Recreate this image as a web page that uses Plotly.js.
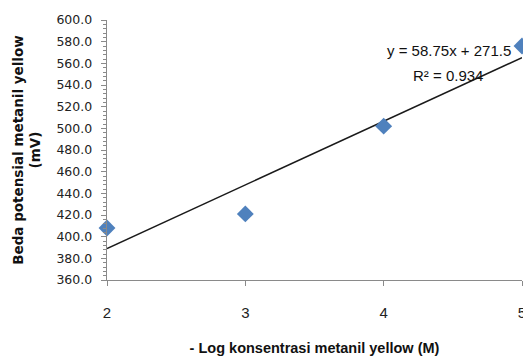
<!DOCTYPE html>
<html><head><meta charset="utf-8">
<script src="https://cdn.plot.ly/plotly-3.0.1.min.js"></script>
<style>html,body{margin:0;padding:0;background:#fff}#c{width:523px;height:363px}</style>
</head><body><div id="c"></div>
<script>
const logConc = [2, 3, 4, 5];
const potential = [408, 421, 502, 576];
const slope = 58.75;
const intercept = 271.5;
const r2 = 0.934;
const trendX = [2, 5];
const strayX = [3.66];
const strayY = [355.5];
const xTicks = [2, 3, 4, 5];

const trendY = trendX.map(x => slope * x + intercept);

const data = [
  {x: trendX, y: trendY, mode: 'lines', type: 'scatter',
   line: {color: '#1a1a1a', width: 1.5}, hoverinfo: 'skip', cliponaxis: false},
  {x: logConc, y: potential, mode: 'markers', type: 'scatter',
   marker: {symbol: 'diamond', size: 13, color: '#4F81BD'}, cliponaxis: false},
  {x: strayX, y: strayY, mode: 'markers', type: 'scatter',
   marker: {size: 2.5, color: '#3344ff'}, cliponaxis: false}
];

const layout = {
  width: 523, height: 363,
  margin: {l: 107, r: 1, t: 20, b: 83},
  paper_bgcolor: '#fff', plot_bgcolor: '#fff',
  showlegend: false,
  font: {family: 'Liberation Sans Narrow, Arial', color: '#222'},
  xaxis: {
    range: [2, 5], tickvals: xTicks, ticktext: xTicks.map(String),
    showgrid: false, zeroline: false, showline: true, linecolor: '#8a8a8a', linewidth: 1.3,
    ticks: 'outside', ticklen: 5, tickcolor: '#8a8a8a',
    ticklabelstandoff: 14, ticklabeloverflow: 'allow',
    tickfont: {family: 'Liberation Sans Narrow, Arial', size: 15, color: '#222'},
    title: {text: '- Log konsentrasi metanil yellow (M)', standoff: 22,
            font: {family: 'Liberation Sans Narrow, Arial', size: 14.5, color: '#111', weight: 'bold'}}
  },
  yaxis: {
    range: [360, 600], dtick: 20, tick0: 360, tickformat: '.1f',
    showgrid: false, zeroline: false, showline: true, linecolor: '#8a8a8a', linewidth: 1.3,
    ticks: 'outside', ticklen: 5, tickcolor: '#8a8a8a', ticklabelstandoff: 6,
    minor: {dtick: 4, ticklen: 3, tickcolor: '#8a8a8a', ticks: 'outside', showgrid: false},
    tickfont: {family: 'DejaVu Sans, Tahoma', size: 12.5, color: '#222'},
    title: {text: 'Beda potensial metanil yellow<br>(mV)', standoff: 12,
            font: {family: 'DejaVu Sans, Arial', size: 13.5, color: '#111', weight: 'bold'}}
  },
  annotations: [
    {x: 449, y: 50, xref: 'paper', yref: 'paper', showarrow: false, text: 'y = 58.75x + 271.5',
     xanchor: 'center', yanchor: 'middle',
     font: {family: 'Liberation Sans Narrow, Arial', size: 15, color: '#111'}},
    {x: 448, y: 75, xref: 'paper', yref: 'paper', showarrow: false, text: 'R² = ' + r2,
     xanchor: 'center', yanchor: 'middle',
     font: {family: 'Liberation Sans Narrow, Arial', size: 15, color: '#111'}}
  ]
};
// convert annotation pixel positions to paper coords
layout.annotations.forEach(a => {
  a.x = (a.x - layout.margin.l) / (523 - layout.margin.l - layout.margin.r);
  a.y = 1 - (a.y - layout.margin.t) / (363 - layout.margin.t - layout.margin.b);
});
Plotly.newPlot('c', data, layout, {displayModeBar: false, staticPlot: true});
</script></body></html>
